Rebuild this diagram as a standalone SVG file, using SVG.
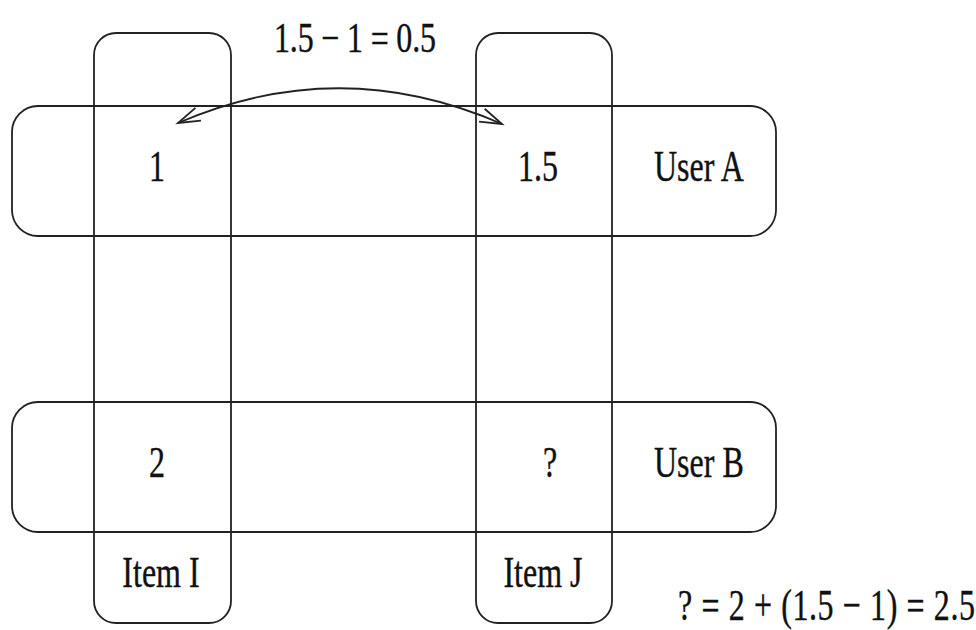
<svg xmlns="http://www.w3.org/2000/svg" width="976" height="630" viewBox="0 0 976 630">
  <style>
    .box { fill: none; stroke: #222; stroke-width: 1.8; }
    .lbl { font-family: "Liberation Serif", "Times New Roman", serif; font-size: 32px; fill: #111; stroke: #111; stroke-width: 0.3; }
    .mid { text-anchor: middle; }
    .link { fill: none; stroke: #222; stroke-width: 1.8; }
  </style>
  <defs>
    <marker id="vhead" markerUnits="userSpaceOnUse" markerWidth="30" markerHeight="20" viewBox="-24 -10 30 20" refX="0" refY="0" orient="auto-start-reverse">
      <path d="M -22 -7 L 0 0 L -22 7" fill="none" stroke="#222" stroke-width="1.8"/>
    </marker>
  </defs>

  <rect width="976" height="630" fill="#ffffff"/>

  <!-- user rows -->
  <g id="user-a">
    <rect class="box" x="12" y="106" width="764" height="130" rx="26"/>
    <text class="lbl" transform="translate(654,181) scale(1,1.375)">User A</text>
  </g>
  <g id="user-b">
    <rect class="box" x="12" y="402" width="764" height="130" rx="26"/>
    <text class="lbl" transform="translate(654,477) scale(1,1.375)">User B</text>
  </g>

  <!-- item columns -->
  <g id="item-i">
    <rect class="box" x="94" y="33" width="137" height="590" rx="22"/>
    <text class="lbl mid" transform="translate(161,587) scale(1,1.375)">Item I</text>
  </g>
  <g id="item-j">
    <rect class="box" x="476" y="33" width="136" height="590" rx="22"/>
    <text class="lbl mid" transform="translate(543,587) scale(1,1.375)">Item J</text>
  </g>

  <!-- ratings -->
  <g id="rating-a-i"><text class="lbl mid" transform="translate(157,181) scale(1,1.375)">1</text></g>
  <g id="rating-a-j"><text class="lbl mid" transform="translate(538,181) scale(1,1.375)">1.5</text></g>
  <g id="rating-b-i"><text class="lbl mid" transform="translate(157,477) scale(1,1.375)">2</text></g>
  <g id="rating-b-j"><text class="lbl mid" transform="translate(550,477) scale(1,1.375)">?</text></g>

  <!-- difference arc -->
  <g id="connectors">
    <path class="link" d="M 178 123 Q 340 53 502 124" marker-start="url(#vhead)" marker-end="url(#vhead)"/>
  </g>

  <g id="diff-label">
    <text class="lbl" transform="translate(274,52) scale(1,1.3)" textLength="162">1.5 − 1 = 0.5</text>
  </g>
  <g id="prediction">
    <text class="lbl" transform="translate(678,620) scale(1,1.375)" textLength="297">? = 2 + (1.5 − 1) = 2.5</text>
  </g>
</svg>
